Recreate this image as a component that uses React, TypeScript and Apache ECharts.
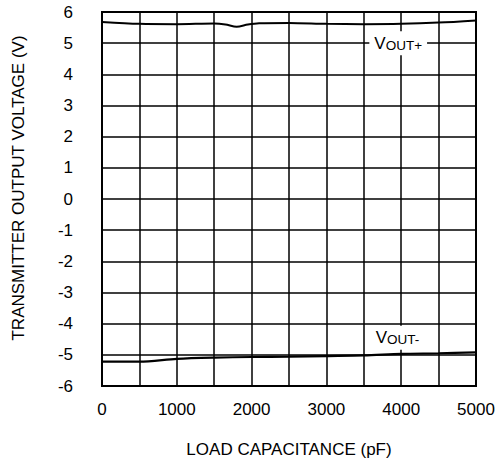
import React, { useEffect, useRef } from "react";
import * as echarts from "echarts";

const xTicks = [0, 1000, 2000, 3000, 4000, 5000];
const voutPlusX = [0, 500, 1000, 1500, 1650, 1800, 1950, 2100, 2500, 3000, 3500, 4000, 4500, 5000];
const voutPlusY = [5.68, 5.62, 5.61, 5.63, 5.6, 5.53, 5.6, 5.64, 5.65, 5.62, 5.61, 5.62, 5.66, 5.73];
const voutMinusX = [0, 500, 1000, 1500, 2000, 2500, 3000, 3500, 4000, 4500, 5000];
const voutMinusY = [-5.22, -5.22, -5.13, -5.09, -5.07, -5.06, -5.04, -5.02, -4.97, -4.95, -4.92];
const labelPlus = { x: 3960, y: 5, sub: "OUT+" };
const labelMinus = { x: 3950, y: -4.45, sub: "OUT-" };

const FONT = "'Liberation Sans', Arial, sans-serif";

export default function App() {
  const ref = useRef<HTMLDivElement>(null);
  useEffect(() => {
    document.body.style.margin = "0";
    const chart = echarts.init(ref.current!, null, { renderer: "svg" });
    const mkLabel = (l: { x: number; y: number; sub: string }) => ({
      symbol: "rect",
      symbolSize: [1, 1],
      silent: true,
      itemStyle: { color: "rgba(0,0,0,0)" },
      label: {
        show: true,
        position: "inside",
        formatter: `{v|V}{s|${l.sub}}`,
        backgroundColor: "#fff",
        padding: [3, 5, 3, 5],
        rich: {
          v: { fontFamily: FONT, fontSize: 17, color: "#000" },
          s: { fontFamily: FONT, fontSize: 13.5, color: "#000", padding: [4, 0, 0, 0] },
        },
      },
      data: [{ coord: [l.x, l.y] }],
    });
    chart.setOption({
      animation: false,
      backgroundColor: "#fff",
      grid: {
        left: 102,
        right: 23,
        top: 12,
        bottom: 73,
        outerBoundsMode: "none",
        containLabel: false,
        show: true,
        borderColor: "#000",
        borderWidth: 2,
      },
      xAxis: {
        type: "value",
        min: 0,
        max: 5000,
        interval: 500,
        name: "LOAD CAPACITANCE (pF)",
        nameLocation: "middle",
        nameGap: 55,
        nameTextStyle: { fontFamily: FONT, fontSize: 17, color: "#000" },
        axisLine: { show: false },
        axisTick: { show: false },
        splitLine: { show: true, lineStyle: { color: "#000", width: 1.5 } },
        axisLabel: {
          margin: 15,
          fontFamily: FONT,
          fontSize: 17,
          color: "#000",
          formatter: (v: number) => (xTicks.includes(v) ? String(v) : ""),
        },
      },
      yAxis: {
        type: "value",
        min: -6,
        max: 6,
        interval: 1,
        axisLine: { show: false },
        axisTick: { show: false },
        splitLine: { show: true, lineStyle: { color: "#000", width: 1.5 } },
        axisLabel: { margin: 29, fontFamily: FONT, fontSize: 17, color: "#000" },
      },
      graphic: [
        {
          type: "text",
          x: 18,
          y: 188,
          rotation: Math.PI / 2,
          style: {
            text: "TRANSMITTER OUTPUT VOLTAGE (V)",
            fontFamily: FONT,
            fontSize: 17,
            fill: "#000",
            textAlign: "center",
            textVerticalAlign: "middle",
          },
        },
      ],
      series: [
        {
          type: "line",
          smooth: 0.3,
          symbol: "none",
          lineStyle: { color: "#000", width: 2 },
          data: voutPlusX.map((x, i) => [x, voutPlusY[i]]),
          markPoint: mkLabel(labelPlus),
        },
        {
          type: "line",
          smooth: 0.3,
          symbol: "none",
          lineStyle: { color: "#000", width: 2.2 },
          data: voutMinusX.map((x, i) => [x, voutMinusY[i]]),
          markPoint: mkLabel(labelMinus),
        },
      ],
    });
    return () => chart.dispose();
  }, []);
  return <div ref={ref} style={{ position: "absolute", left: 0, top: 0, width: 499, height: 459 }} />;
}
